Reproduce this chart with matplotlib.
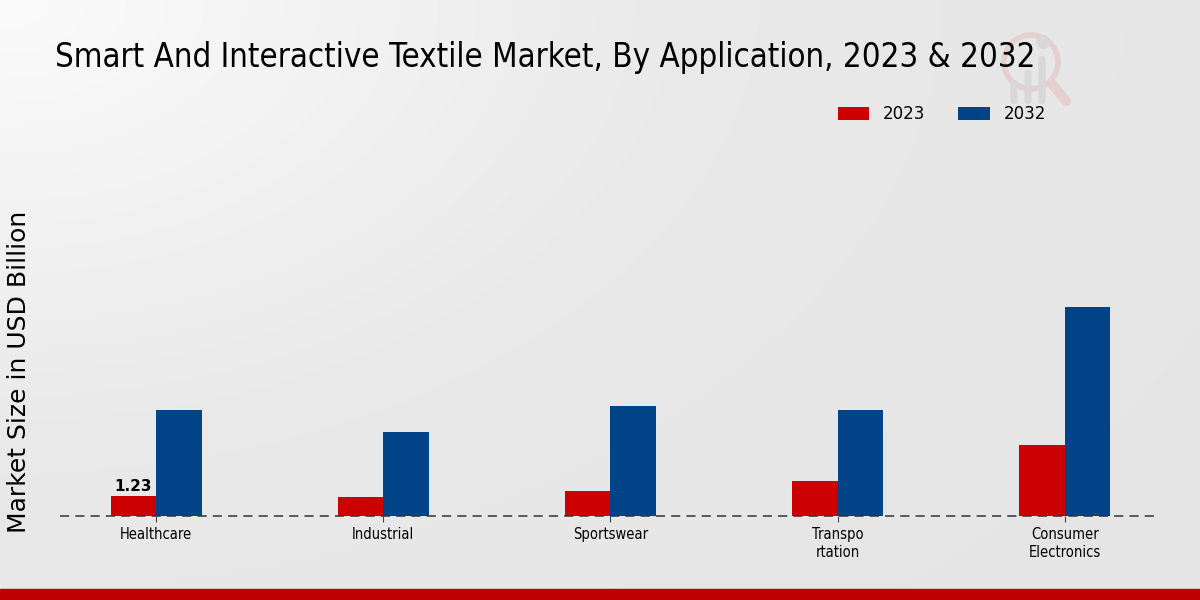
import matplotlib
matplotlib.use("Agg")
import matplotlib.pyplot as plt
import numpy as np
from matplotlib.patches import Rectangle, Circle, FancyBboxPatch

categories = ["Healthcare", "Industrial", "Sportswear", "Transpo\nrtation", "Consumer\nElectronics"]
series_names = ["2023", "2032"]
values_2023 = [1.23, 1.17, 1.54, 2.15, 4.35]
values_2032 = [6.54, 5.19, 6.77, 6.54, 12.85]
colors = ["#cc0000", "#004488"]

fig = plt.figure(figsize=(12, 6), dpi=100)

# background gradient (pixel-based overlay axes)
bg = fig.add_axes([0, 0, 1, 1], zorder=-10)
xx, yy = np.meshgrid(np.linspace(0, 1200, 400), np.linspace(0, 600, 200))
d = np.sqrt(xx ** 2 + (yy * 1.6) ** 2)
grad = 0.985 - 0.07 * np.clip(d / 700, 0, 1) - 0.015 * np.clip((d - 700) / 700, 0, 1)
bg.imshow(np.dstack([grad, grad, grad]), extent=[0, 1200, 600, 0], aspect="auto")
bg.add_patch(Rectangle((0, 589), 1200, 11, color="#bf0000"))
# watermark
bg.add_patch(Circle((1031, 62), 27, fill=False, edgecolor="#e6cfcf", linewidth=4))
bg.plot([1052, 1066], [84, 101], color="#e6cfcf", linewidth=7, solid_capstyle="round")
for bx, top in [(1014, 80), (1028, 70), (1042, 56)]:
    bg.add_patch(FancyBboxPatch((bx - 3.5, top), 7, 104 - top,
                                boxstyle="round,pad=0,rounding_size=3.5",
                                facecolor="#d8d8d8", edgecolor="none"))
bg.add_patch(Circle((1043, 42), 7, facecolor="#d8d8d8", edgecolor="none"))
bg.set_xlim(0, 1200); bg.set_ylim(600, 0)
bg.axis("off")

ax = fig.add_axes([0.05, 0.14, 0.9167, 0.643])
ax.patch.set_alpha(0)
x = np.arange(len(categories))
w = 0.2
ax.bar(x - w / 2, values_2023, w, color=colors[0], label=series_names[0], zorder=3)
ax.bar(x + w / 2, values_2032, w, color=colors[1], label=series_names[1], zorder=3)

ax.set_xlim(-0.423, 4.42)
ax.set_ylim(0, 23.7)
ax.axhline(0, color="#333333", linestyle=(0, (6, 4)), linewidth=1.1, zorder=4, clip_on=False)
for s in ax.spines.values():
    s.set_visible(False)
ax.set_yticks([])
ax.set_xticks(x)
ax.set_xticklabels(categories, fontsize=10.5, fontstretch="condensed")
ax.tick_params(axis="x", length=4, color="#444444", pad=4)

ax.text(x[0] - w / 2, values_2023[0] + 0.15, "1.23", ha="center", va="bottom",
        fontsize=11, fontweight="bold")

fig.text(19 / 1200, 1 - 372 / 600, "Market Size in USD Billion", fontsize=18,
         rotation=90, ha="center", va="center")

fig.legend(loc="center left", bbox_to_anchor=(831 / 1200, 1 - 114 / 600), ncol=2, frameon=False,
           fontsize=12, handlelength=1.9, handleheight=0.8, handletextpad=0.8,
           columnspacing=2.0, borderaxespad=0)

fig.text(55 / 1200, 1 - 57 / 600, "Smart And Interactive Textile Market, By Application, 2023 & 2032",
         fontsize=23.7, ha="left", va="center", fontstretch="condensed")

fig.savefig("out.png", dpi=100)
